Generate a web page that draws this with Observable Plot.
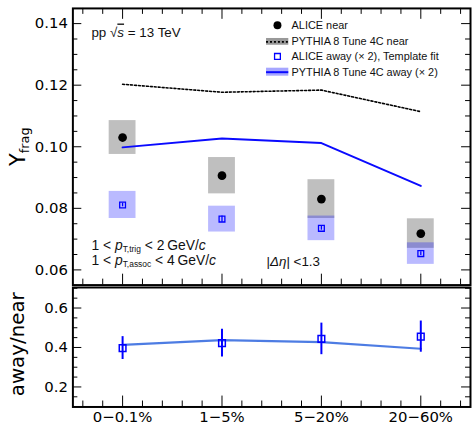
<!DOCTYPE html>
<html><head><meta charset="utf-8">
<script src="https://cdn.jsdelivr.net/npm/d3@7"></script>
<script src="https://cdn.jsdelivr.net/npm/@observablehq/plot@0.6"></script>
<style>
body{margin:0;background:#fff}
#chart{position:relative;width:472px;height:425px;overflow:hidden;background:#fff}
#chart svg{position:absolute;left:0;overflow:visible}
</style></head><body><div id="chart"></div>
<script>
// ---------- data ----------
const categories = ["0\u22120.1%", "1\u22125%", "5\u221220%", "20\u221260%"];
const aliceNear = [0.1030, 0.0906, 0.0830, 0.0718];
const aliceNearSys = [0.0055, 0.0059, 0.0063, 0.0048];
const aliceAway = [0.0811, 0.0765, 0.0735, 0.0653];
const aliceAwaySys = [0.0044, 0.0042, 0.0040, 0.0035];
const aliceAwayStat = [0.0006, 0.0010, 0.0006, 0.0006];
const pythiaNear = [0.1203, 0.1177, 0.1184, 0.1114];
const pythiaAway = [0.0998, 0.1027, 0.1012, 0.0873];
const ratio = [0.397, 0.422, 0.4435, 0.455];
const ratioErr = [0.058, 0.070, 0.080, 0.079];
const pythiaRatio = [0.4135, 0.437, 0.427, 0.3935];
const yTicksTop = [0.06, 0.08, 0.10, 0.12, 0.14];
const yTicksBottom = [0.2, 0.4, 0.6];
const legendLabels = ["ALICE near", "PYTHIA 8 Tune 4C near", "ALICE away (\u00d7 2), Template fit", "PYTHIA 8 Tune 4C away (\u00d7 2)"];
const legendY = [0.13945, 0.13407, 0.12935, 0.12422];
const legendX = {sym: 1.558, x1: 1.448, x2: 1.672, text: 1.70};
const annPP = "pp \u221As = 13 TeV";
const annTrig = "1 < pT,trig < 2 GeV/c";
const annAssoc = "1 < pT,assoc < 4 GeV/c";
const annEta = "|\u0394\u03b7| <1.3";

// ---------- layout ----------
const W = 476, X0 = 73, X1 = 474, frameW = X1 - X0;
const topH = 288, topMT = 8, topMB = 1, topFH = topH - topMT - topMB;
const botH = 138, botMT = 0, botMB = 17.5, botFH = botH - botMT - botMB;
const idx = d3.range(categories.length);
const xMinor = d3.range(-0.4, 3.45, 0.2).filter(v => Math.abs(v - Math.round(v)) > 0.01);
const yMinorTop = d3.range(0.055, 0.145, 0.005).filter(v => !yTicksTop.some(t => Math.abs(t - v) < 1e-6));
const yMinorBot = d3.range(0.1, 0.7001, 0.05).filter(v => !yTicksBottom.some(t => Math.abs(t - v) < 1e-6));

function ticks(fh, yMaj, yMin, top) {
  const m = [];
  const s = {stroke: "black", strokeWidth: 1};
  m.push(Plot.tickY(yMaj, {y: d => d, insetRight: frameW - 9, ...s}));
  m.push(Plot.tickY(yMaj, {y: d => d, insetLeft: frameW - 9, ...s}));
  m.push(Plot.tickY(yMin, {y: d => d, insetRight: frameW - 5, ...s}));
  m.push(Plot.tickY(yMin, {y: d => d, insetLeft: frameW - 5, ...s}));
  m.push(Plot.tickX(idx, {x: d => d, insetTop: fh - 11, ...s}));
  m.push(Plot.tickX(xMinor, {x: d => d, insetTop: fh - 6, ...s}));
  if (top) {
    m.push(Plot.tickX(idx, {x: d => d, insetBottom: fh - 11, ...s}));
    m.push(Plot.tickX(xMinor, {x: d => d, insetBottom: fh - 6, ...s}));
  }
  return m;
}

const baseStyle = {fontFamily: "DejaVu Sans", fontSize: "15px", background: "transparent", overflow: "visible", color: "black"};
const LS = "Liberation Sans";

const topPlot = Plot.plot({
  width: W, height: topH, marginTop: topMT, marginBottom: topMB, marginLeft: X0, marginRight: W - X1,
  style: baseStyle,
  x: {domain: [-0.5, 3.5], axis: null},
  y: {domain: [0.05507, 0.14493]},
  marks: [
    Plot.rect(idx, {x1: i => i - 0.135, x2: i => i + 0.135, y1: i => aliceNear[i] - aliceNearSys[i], y2: i => aliceNear[i] + aliceNearSys[i], fill: "black", fillOpacity: 0.25}),
    Plot.rect(idx, {x1: i => i - 0.135, x2: i => i + 0.135, y1: i => aliceAway[i] - aliceAwaySys[i], y2: i => aliceAway[i] + aliceAwaySys[i], fill: "#0000ff", fillOpacity: 0.27}),
    Plot.line(idx, {x: i => i, y: i => pythiaNear[i], stroke: "black", strokeWidth: 1.6, strokeDasharray: "2,2"}),
    Plot.line(idx, {x: i => i, y: i => pythiaAway[i], stroke: "#0a0aff", strokeWidth: 2}),
    Plot.dot(idx, {x: i => i, y: i => aliceNear[i], r: 4.4, fill: "black"}),
    Plot.ruleX(idx, {x: i => i, y1: i => aliceAway[i] - aliceAwayStat[i], y2: i => aliceAway[i] + aliceAwayStat[i], stroke: "blue", strokeWidth: 1.3}),
    Plot.dot(idx, {x: i => i, y: i => aliceAway[i], symbol: "square", r: 3.3, stroke: "blue", strokeWidth: 1.3, fill: "none"}),
    // legend
    Plot.dot([0], {x: () => legendX.sym, y: () => legendY[0], r: 4, fill: "black"}),
    Plot.rect([1], {x1: () => legendX.x1, x2: () => legendX.x2, y1: () => legendY[1] - 0.0011, y2: () => legendY[1] + 0.0011, fill: "black", fillOpacity: 0.4}),
    Plot.ruleY([1], {y: () => legendY[1], x1: () => legendX.x1, x2: () => legendX.x2, stroke: "black", strokeWidth: 1.6, strokeDasharray: "2,2"}),
    Plot.dot([2], {x: () => legendX.sym, y: () => legendY[2], symbol: "square", r: 3.3, stroke: "blue", strokeWidth: 1.3, fill: "none"}),
    Plot.rect([3], {x1: () => legendX.x1, x2: () => legendX.x2, y1: () => legendY[3] - 0.0013, y2: () => legendY[3] + 0.0013, fill: "#0000ff", fillOpacity: 0.35}),
    Plot.ruleY([3], {y: () => legendY[3], x1: () => legendX.x1, x2: () => legendX.x2, stroke: "#0a0aff", strokeWidth: 2}),
    Plot.text(idx, {x: () => legendX.text, y: i => legendY[i], text: i => legendLabels[i], textAnchor: "start", lineAnchor: "middle", fontSize: 11, fontFamily: LS, fill: "#111"}),
    // annotations
    Plot.text([annPP], {x: () => -0.3135, y: () => 0.1372, textAnchor: "start", lineAnchor: "middle", fontSize: 13.5, fontFamily: LS, fill: "#111"}),
    Plot.text([annTrig], {x: () => -0.3135, y: () => 0.06805, textAnchor: "start", lineAnchor: "middle", fontSize: 14, fontFamily: LS, fill: "#111"}),
    Plot.text([annAssoc], {x: () => -0.3135, y: () => 0.06303, textAnchor: "start", lineAnchor: "middle", fontSize: 14, fontFamily: LS, fill: "#111"}),
    Plot.text([annEta], {x: () => 1.448, y: () => 0.0627, textAnchor: "start", lineAnchor: "middle", fontSize: 13.5, fontFamily: LS, fill: "#111"}),
    // axes
    ...ticks(topFH, yTicksTop, yMinorTop, true),
    Plot.axisY({ticks: yTicksTop, tickFormat: d => d.toFixed(2), tickSize: 0, tickPadding: 5, fontSize: 15, label: null}),
    Plot.text(["Yfrag"], {frameAnchor: "left", dx: -48, rotate: -90, fontSize: 21, fontFamily: "DejaVu Sans", textAnchor: "middle", lineAnchor: "bottom", fill: "black"}),
    Plot.frame({stroke: "black", strokeWidth: 2})
  ]
});

const botPlot = Plot.plot({
  width: W, height: botH, marginTop: botMT, marginBottom: botMB, marginLeft: X0, marginRight: W - X1,
  style: baseStyle,
  x: {domain: [-0.5, 3.5]},
  y: {domain: [0.0985, 0.704]},
  marks: [
    Plot.line(idx, {x: i => i, y: i => pythiaRatio[i], stroke: "#3a6ee0", strokeWidth: 2.2, strokeOpacity: 0.9}),
    Plot.ruleX(idx, {x: i => i, y1: i => ratio[i] - ratioErr[i], y2: i => ratio[i] + ratioErr[i], stroke: "#0000ff", strokeWidth: 2}),
    Plot.dot(idx, {x: i => i, y: i => ratio[i], symbol: "square", r: 3.8, stroke: "#0000ff", strokeWidth: 1.5, fill: "none"}),
    ...ticks(botFH, yTicksBottom, yMinorBot, false),
    Plot.axisY({ticks: yTicksBottom, tickFormat: d => d.toFixed(1), tickSize: 0, tickPadding: 5, fontSize: 15, label: null}),
    Plot.axisX({ticks: idx, tickFormat: i => categories[i], tickSize: 0, tickPadding: 5, fontSize: 15, label: null}),
    Plot.text(["away/near"], {frameAnchor: "left", dx: -49, dy: -3, rotate: -90, fontSize: 20, fontFamily: "DejaVu Sans", textAnchor: "middle", lineAnchor: "bottom", fill: "black"}),
    Plot.frame({stroke: "black", strokeWidth: 2})
  ]
});

topPlot.style.top = "0px";
botPlot.style.top = "287px";
const chart = document.getElementById("chart");
chart.appendChild(topPlot);
chart.appendChild(botPlot);

// rich text (italics, subscripts, overline) on texts drawn by Plot
function rich(svg, plain, parts, subDy, subSize) {
  d3.select(svg).selectAll("text").filter(function() { return this.textContent === plain; }).each(function() {
    const t = d3.select(this);
    t.text(null);
    let shift = 0;
    for (const [s, st = ""] of parts) {
      const styles = st.split(" ");
      const ts = t.append("tspan").text(s);
      const want = styles.includes("sub") ? subDy : 0;
      if (want !== shift) { ts.attr("dy", want - shift); shift = want; }
      if (styles.includes("sub")) ts.attr("font-size", subSize);
      if (styles.includes("it")) ts.attr("font-style", "italic");
      if (styles.includes("ov")) ts.attr("text-decoration", "overline");
    }
  });
}
rich(topPlot, "Yfrag", [["Y"], ["frag", "sub"]], 4, 13);
rich(topPlot, annPP, [["pp \u221A"], ["s", "it ov"], [" = 13 TeV"]], 0, 13);
rich(topPlot, annTrig, [["1 < "], ["p", "it"], ["T,trig", "sub"], [" < 2\u2009GeV/"], ["c", "it"]], 2.5, 8.5);
rich(topPlot, annAssoc, [["1 < "], ["p", "it"], ["T,assoc", "sub"], [" < 4\u2009GeV/"], ["c", "it"]], 2.5, 8.5);
rich(topPlot, annEta, [["|"], ["\u0394\u03b7", "it"], ["| <1.3"]], 0, 13);
</script></body></html>
